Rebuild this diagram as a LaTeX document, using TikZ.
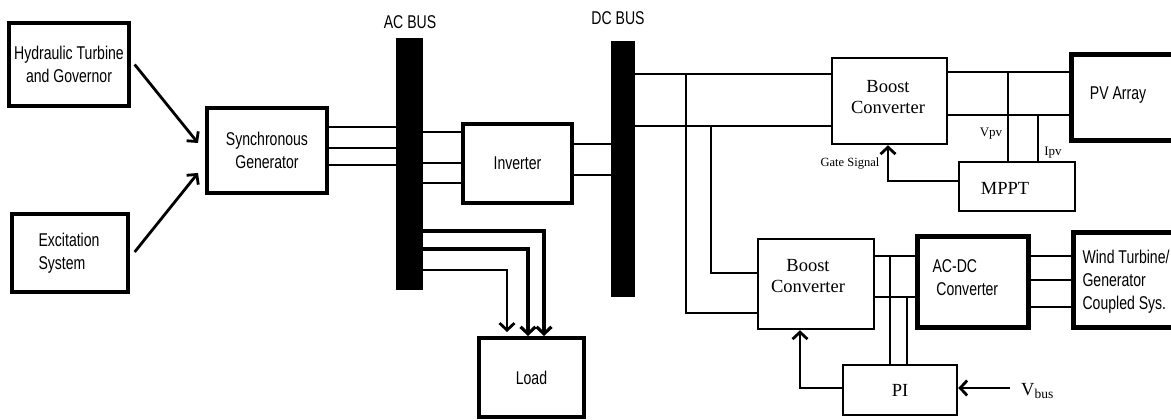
\documentclass[tikz,border=0pt]{standalone}
\usepackage{fontspec}
\setmainfont{Liberation Serif}
\newfontfamily\arialn[FakeStretch=0.76]{Liberation Sans}
\usetikzlibrary{arrows.meta,calc}
\tikzset{
  box/.style={draw, line width=2.5pt, inner sep=0pt},
  bus/.style={fill=black, draw=none, inner sep=0pt},
  sans/.style={font=\arialn\fontsize{18.5}{23}\selectfont},
  serif/.style={font=\fontsize{18.5}{21}\selectfont},
  small/.style={font=\fontsize{12.5}{14}\selectfont},
  ln/.style={line width=2.8pt},
  arr/.style={line width=2.8pt, -{Straight Barb[length=7pt,width=15pt]}},
}
\begin{document}
\begin{tikzpicture}[x=1pt,y=-1pt]
\useasboundingbox (0,0) rectangle (1171,420);
\clip (0,0) rectangle (1171,420);

% buses
\node[bus, minimum width=27pt, minimum height=252pt] (acbus) at (409.5,164) {};
\node[bus, minimum width=24pt, minimum height=256pt] (dcbus) at (623,169) {};
\node[sans] (acl) at (410,22) {AC BUS};
\node[sans] (dcl) at (618,18) {DC BUS};

% boxes
\node[box, line width=3.3pt, sans, align=center, minimum width=120pt, minimum height=83pt] (ht) at (69,64.5) {Hydraulic Turbine\\and Governor};
\node[box, line width=4pt, sans, align=center, minimum width=120pt, minimum height=85pt] (sg) at (267,150.5) {Synchronous\\Generator};
\node[box, line width=3.3pt, minimum width=116pt, minimum height=78pt] (ex) at (70,253) {};
\node[sans, align=left, anchor=west] (ext) at (35,253) {Excitation\\System};
\node[box, line width=4pt, sans, minimum width=109pt, minimum height=79pt] (inv) at (517.5,163.5) {Inverter};
\node[box, line width=4pt, sans, minimum width=105pt, minimum height=79pt] (load) at (531.5,377.5) {Load};
\node[box, minimum width=115pt, minimum height=86pt] (b1) at (889.5,101) {};
\node[serif, align=center] (b1t) at (888,97.5) {Boost\\Converter};
\node[box, minimum width=116pt, minimum height=49pt] (mppt) at (1017,186.5) {};
\node[serif] (mpptt) at (1005,188) {MPPT};
\node[box, line width=5pt, minimum width=114pt, minimum height=85pt] (pv) at (1128,97.5) {};
\node[sans] (pvt) at (1118,95) {PV Array};
\node[box, minimum width=116pt, minimum height=90pt] (b2) at (816,284) {};
\node[serif, align=center] (b2t) at (808,276.5) {Boost\\Converter};
\node[box, line width=5pt, minimum width=111pt, minimum height=91pt] (acdc) at (972.5,281.5) {};
\node[sans, align=left, anchor=west] (acdct) at (929,278) {AC-DC\\\ Converter};
\node[box, line width=5pt, minimum width=112pt, minimum height=95pt] (wind) at (1129,279.5) {};
\node[sans, align=left, anchor=west] (windt) at (1079,282) {Wind Turbine/\\Generator\\Coupled Sys.};
\node[box, serif, minimum width=114pt, minimum height=50pt] (pi) at (900,390) {PI};
\node[anchor=west, inner sep=0pt, font=\fontsize{18.5}{20}\selectfont] (vb) at (1021,391) {V\raisebox{-3pt}{\fontsize{13.5}{14}\selectfont bus}};

% small labels
\node[small] (gs) at (850,164) {Gate Signal};
\node[font=\fontsize{13}{14}\selectfont] (vpv) at (991,134) {Vpv};
\node[font=\fontsize{13}{14}\selectfont] (ipv) at (1053,153) {Ipv};

% junctions
\coordinate (j1) at (1008,72);
\coordinate (j2) at (1038,115);
\coordinate (j3) at (686,74);
\coordinate (j4) at (711,126);
\coordinate (j5) at (890,256);
\coordinate (j6) at (907,297);

% input arrows
\draw[arr] ($(ht.east)+(4,0)$) -- ($(sg.west)+(-7,-7.5)$);
\draw[arr] ($(ex.east)+(5,-1)$) -- ($(sg.west)+(-7,22.5)$);

% SG to AC bus
\foreach \y in {127,148,165} \draw[ln] (sg.east |- 0,\y) -- (acbus.west |- 0,\y);
% AC bus to inverter
\foreach \y in {132,163,183} \draw[ln] (acbus.east |- 0,\y) -- (inv.west |- 0,\y);
% inverter to DC bus
\foreach \y in {144,175} \draw[ln] (inv.east |- 0,\y) -- (dcbus.west |- 0,\y);
% DC bus to boost 1
\foreach \y in {74,126} \draw[ln] (dcbus.east |- 0,\y) -- (b1.west |- 0,\y);
% boost 1 to PV
\foreach \y in {72,115} \draw[ln] (b1.east |- 0,\y) -- (pv.west |- 0,\y);
\draw[ln] (j1) -- (mppt.north -| j1);
\draw[ln] (j2) -- (mppt.north -| j2);
\draw[arr] (mppt.west |- 0,181) -| (b1.south -| 888,0);

% DC bus to boost 2
\draw[ln] (j3) |- (b2.west |- 0,313);
\draw[ln] (j4) |- (b2.west |- 0,273);
% boost 2 to AC-DC
\foreach \y in {256,297} \draw[ln] (b2.east |- 0,\y) -- (acdc.west |- 0,\y);
\draw[ln] (j5) -- (pi.north -| j5);
\draw[ln] (j6) -- (pi.north -| j6);
\draw[arr] (pi.west |- 0,388) -| (b2.south -| 800,0);
\draw[arr] ($(vb.west |- 0,388)+(-11,0)$) -- (pi.east |- 0,388);
% AC-DC to wind
\foreach \y in {256,280,307} \draw[ln] (acdc.east |- 0,\y) -- (wind.west |- 0,\y);

% AC bus to load
\draw[arr, line width=3.2pt] (acbus.east |- 0,231) -| (load.north -| 544,0);
\draw[arr, line width=3.2pt] (acbus.east |- 0,249) -| (load.north -| 528,0);
\draw[arr] (acbus.east |- 0,270) -| ($(load.north -| 507,0)+(0,-4)$);
\end{tikzpicture}
\end{document}
